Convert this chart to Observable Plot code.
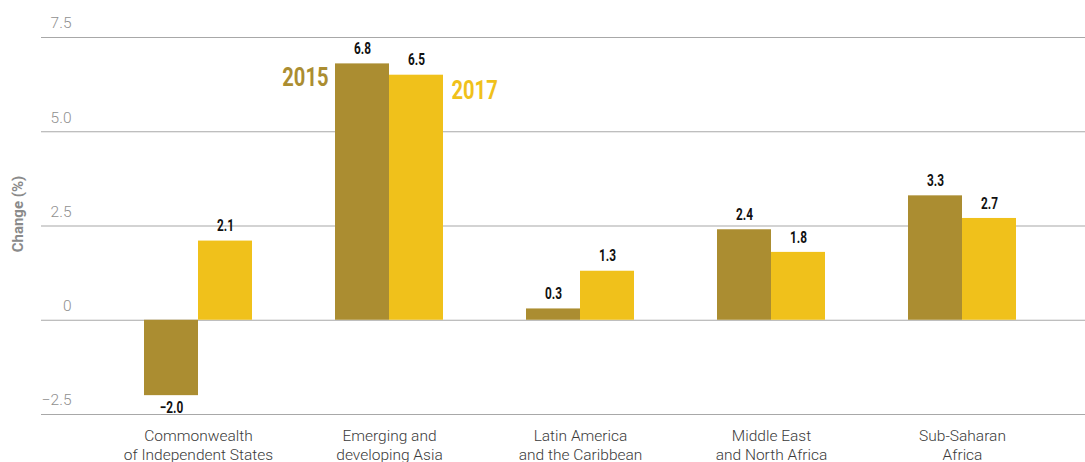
<!DOCTYPE html>
<html>
<head>
<meta charset="utf-8">
<script src="https://cdn.jsdelivr.net/npm/d3@7"></script>
<script src="https://cdn.jsdelivr.net/npm/@observablehq/plot@0.6"></script>
<style>
  html, body { margin: 0; padding: 0; background: #fff; }
  #chart svg { display: block; font-family: Roboto, "Liberation Sans", sans-serif; }
</style>
</head>
<body>
<div id="chart"></div>
<script>
const regions = [
  "Commonwealth of Independent States",
  "Emerging and developing Asia",
  "Latin America and the Caribbean",
  "Middle East and North Africa",
  "Sub-Saharan Africa"
];
const regionLabels = [
  "Commonwealth\nof Independent States",
  "Emerging and\ndeveloping Asia",
  "Latin America\nand the Caribbean",
  "Middle East\nand North Africa",
  "Sub-Saharan\nAfrica"
];
const years = ["2015", "2017"];
const values2015 = [-2.0, 6.8, 0.3, 2.4, 3.3];
const values2017 = [2.1, 6.5, 1.3, 1.8, 2.7];
const yTicks = [-2.5, 0, 2.5, 5.0, 7.5];
const colors = ["#ab8d31", "#f0c11b"];

const rows2015 = regions.map((r, i) => ({region: r, year: years[0], value: values2015[i]}));
const rows2017 = regions.map((r, i) => ({region: r, year: years[1], value: values2017[i]}));
const labelMap = new Map(regions.map((r, i) => [r, regionLabels[i]]));
const fmt = d => d === 0 ? "0" : d3.format(".1f")(d);
const valFmt = d => d3.format(".1f")(d.value);
const half = 54; // half of the region band width

const valueLabel = (rows, dx) => [
  Plot.text(rows.filter(d => d.value >= 0), {x: "region", y: "value", text: valFmt, dx, dy: -15,
    fontSize: 16, fontWeight: "bold", fill: "#111", ariaDescription: "cond-0.74"}),
  Plot.text(rows.filter(d => d.value < 0), {x: "region", y: "value", text: valFmt, dx, dy: 12,
    fontSize: 16, fontWeight: "bold", fill: "#111", ariaDescription: "cond-0.74"})
];

const chart = Plot.plot({
  width: 1085,
  height: 462,
  marginLeft: 41,
  marginRight: 0,
  marginTop: 37,
  marginBottom: 48,
  x: {domain: regions, range: [102.5, 1057.5], paddingInner: 0.4346, paddingOuter: 0.2173},
  y: {domain: [-2.5, 7.5], axis: null},
  marks: [
    Plot.ruleY(yTicks, {y: d => d, stroke: "#a8a8a8", strokeWidth: 1.2}),
    Plot.text(yTicks, {y: d => d, text: fmt, frameAnchor: "left", dx: 30, dy: -14, textAnchor: "end",
      fill: "#909090", fontSize: 15.5, fontWeight: 300}),
    Plot.text(["Change (%)"], {frameAnchor: "left", dx: -23, dy: -12, rotate: -90, textAnchor: "middle",
      fill: "#8a8a8a", fontSize: 15, fontWeight: "bold"}),
    Plot.barY(rows2015, {x: "region", y: "value", fill: colors[0], insetRight: half}),
    Plot.barY(rows2017, {x: "region", y: "value", fill: colors[1], insetLeft: half}),
    ...valueLabel(rows2015, -half / 2),
    ...valueLabel(rows2017, half / 2),
    Plot.text(rows2015.filter(d => d.region === regions[1]), {x: "region", y: "value", text: "year",
      dx: -61, dy: 14, textAnchor: "end", fontSize: 26.5, fontWeight: "bold", fill: colors[0], ariaDescription: "cond-0.76"}),
    Plot.text(rows2017.filter(d => d.region === regions[1]), {x: "region", y: "value", text: "year",
      dx: 62, dy: 15, textAnchor: "start", fontSize: 26.5, fontWeight: "bold", fill: colors[1], ariaDescription: "cond-0.76"}),
    Plot.axisX({anchor: "bottom", tickSize: 0, tickPadding: 13, tickFormat: k => labelMap.get(k),
      fontSize: 15.5, fontWeight: 300, fill: "#3a3a3a", lineHeight: 1.23, label: null})
  ]
});

// horizontally condense the bold numeric labels (condensed face not installed)
chart.querySelectorAll('g[aria-description^="cond"]').forEach(g => {
  const s = +g.getAttribute("aria-description").split("-")[1];
  g.querySelectorAll("text").forEach(t => {
    const tr = t.getAttribute("transform");
    if (tr) {
      t.setAttribute("transform", tr + ` scale(${s},1)`);
    } else {
      const x = +(t.getAttribute("x") || 0), y = +(t.getAttribute("y") || 0);
      t.removeAttribute("x"); t.removeAttribute("y");
      t.setAttribute("transform", `translate(${x},${y}) scale(${s},1)`);
    }
  });
});
document.getElementById("chart").appendChild(chart);
</script>
</body>
</html>
